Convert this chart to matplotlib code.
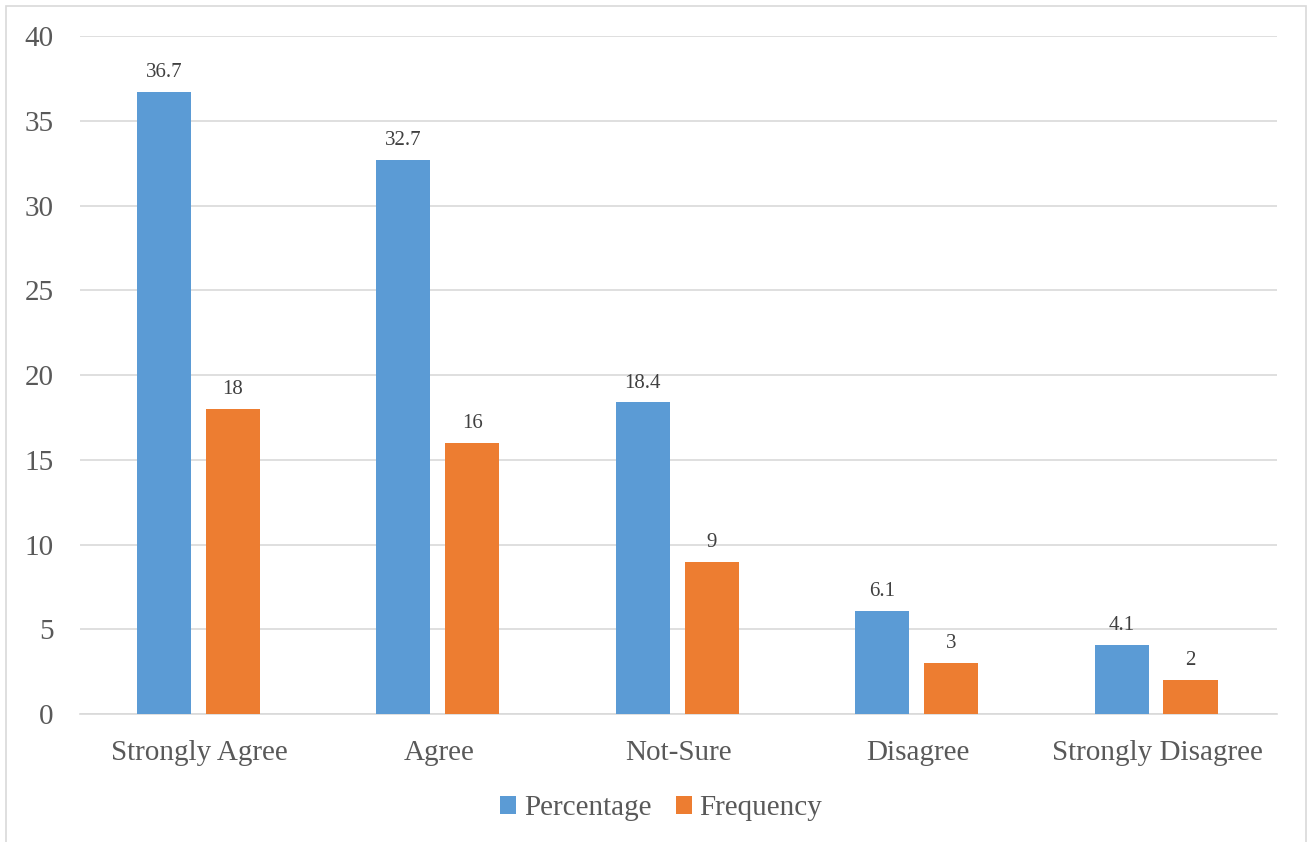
import numpy as np
import matplotlib.pyplot as plt
from matplotlib.patches import Rectangle

# ===== DATA =====
categories = ["Strongly Agree", "Agree", "Not-Sure", "Disagree", "Strongly Disagree"]
percentage = [36.7, 32.7, 18.4, 6.1, 4.1]
frequency = [18, 16, 9, 3, 2]
y_ticks = [0, 5, 10, 15, 20, 25, 30, 35, 40]

BLUE = "#5B9BD5"
ORANGE = "#ED7D31"
TEXT = "#595959"
GRID = "#D9D9D9"

plt.rcParams['font.family'] = ['Liberation Serif', 'DejaVu Serif']

fig = plt.figure(figsize=(13.07, 8.42), dpi=100)
ax = fig.add_axes([0.0612, 0.152, 0.9158, 0.805])

x = np.arange(len(categories))
width = 0.226

bars_p = ax.bar(x - 0.149, percentage, width, color=BLUE, label="Percentage", zorder=3)
bars_f = ax.bar(x + 0.139, frequency, width, color=ORANGE, label="Frequency", zorder=3)

# value labels above each bar
for bars, vals in ((bars_p, percentage), (bars_f, frequency)):
    for b, v in zip(bars, vals):
        ax.annotate(f"{v:g}", (b.get_x() + b.get_width() / 2, v),
                    xytext=(0, 7), textcoords="offset points",
                    ha="center", va="bottom", fontsize=15, color="#404040")

ax.set_xlim(-0.5, len(categories) - 0.5)
ax.set_ylim(0, 40)
ax.set_yticks(y_ticks)
ax.set_xticks(x)
ax.set_xticklabels(categories)
ax.tick_params(axis="both", length=0, labelsize=21, colors=TEXT)
ax.tick_params(axis="y", pad=19)
ax.tick_params(axis="x", pad=19)

ax.yaxis.grid(True, color=GRID, linewidth=1.2, zorder=0)
for side in ("left", "right", "top"):
    ax.spines[side].set_visible(False)
ax.spines["bottom"].set_color(GRID)
ax.spines["bottom"].set_linewidth(1.2)

leg = fig.legend(handles=[bars_p, bars_f], loc="center", bbox_to_anchor=(0.506, 0.04),
                 ncol=2, frameon=False, fontsize=21, handlelength=0.55, handleheight=0.55,
                 handletextpad=0.25, columnspacing=0.85)
for t in leg.get_texts():
    t.set_color(TEXT)

# light chart-area border
fig.patches.append(Rectangle((0.0046, -0.01), 0.9946, 1.003, transform=fig.transFigure,
                             fill=False, edgecolor=GRID, linewidth=1.2))

fig.savefig("out.png", dpi=100)
